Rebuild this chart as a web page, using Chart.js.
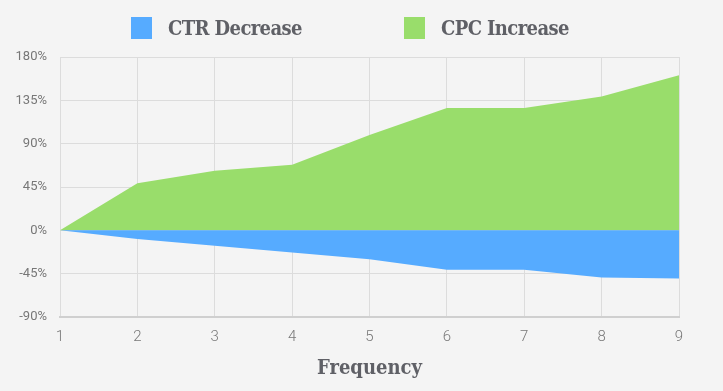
<!DOCTYPE html>
<html>
<head>
<meta charset="utf-8">
<script src="https://cdn.jsdelivr.net/npm/chart.js@4.4.1/dist/chart.umd.min.js"></script>
<style>
  html, body { margin: 0; padding: 0; background: #f4f4f4; }
  #wrap { position: relative; width: 723px; height: 391px; }
  #legend { position: absolute; top: 0; left: 0; width: 723px; height: 56px; }
  .item { position: absolute; top: 17px; height: 22px; }
  .box { position: absolute; top: 0; left: 0; width: 21px; height: 22px; }
  .label {
    position: absolute; left: 37px; top: -2px; white-space: nowrap;
    font-family: 'DejaVu Serif Condensed', 'DejaVu Serif', serif; font-weight: bold;
    font-size: 20px; line-height: 26px; color: #5f6066; letter-spacing: -0.6px;
  }
</style>
</head>
<body>
<div id="wrap">
  <canvas id="chart" width="723" height="391"></canvas>
  <div id="legend"></div>
</div>
<script>
// ── Data ──
const frequency = ['1', '2', '3', '4', '5', '6', '7', '8', '9'];
const ctrDecrease = [0, -9, -16, -23, -30, -41, -41, -49, -50];
const cpcIncrease = [0, 49, 62, 68, 99, 127, 127, 139, 161];
const yTicks = [-90, -45, 0, 45, 90, 135, 180];

const BLUE = '#56abff';
const GREEN = '#99dd6b';
const SLAB = "'DejaVu Serif Condensed', 'DejaVu Serif', serif";

// ── HTML legend ──
const legendItems = [
  { text: 'CTR Decrease', color: BLUE, left: 131 },
  { text: 'CPC Increase', color: GREEN, left: 404 }
];
document.getElementById('legend').innerHTML = legendItems.map(it => `
  <div class="item" style="left:${it.left}px">
    <div class="box" style="background:${it.color}"></div>
    <div class="label">${it.text}</div>
  </div>`).join('');

new Chart(document.getElementById('chart'), {
  type: 'line',
  data: {
    labels: frequency,
    datasets: [
      {
        label: 'CTR Decrease',
        data: ctrDecrease,
        backgroundColor: BLUE,
        borderWidth: 0,
        pointRadius: 0,
        fill: 'origin',
        tension: 0
      },
      {
        label: 'CPC Increase',
        data: cpcIncrease,
        backgroundColor: GREEN,
        borderWidth: 0,
        pointRadius: 0,
        fill: 'origin',
        tension: 0
      }
    ]
  },
  options: {
    responsive: false,
    animation: false,
    layout: { padding: { top: 57, right: 44, left: 0, bottom: 0 } },
    plugins: { legend: { display: false }, tooltip: { enabled: false } },
    scales: {
      x: {
        grid: { color: '#dcdcdc', drawTicks: false },
        border: { color: '#cfcfcf', width: 2 },
        ticks: { padding: 11, color: '#777', font: { family: 'Roboto', weight: 300, size: 15 } },
        title: {
          display: true, text: 'Frequency', color: '#5f6066',
          padding: { top: 10, bottom: 10 },
          font: { family: SLAB, weight: 'bold', size: 20 }
        },
        afterFit: s => { s.height = 74; }
      },
      y: {
        min: -90, max: 180,
        afterBuildTicks: s => { s.ticks = yTicks.map(v => ({ value: v })); },
        grid: { color: '#dcdcdc', drawTicks: false },
        border: { display: false },
        ticks: { padding: 13, color: '#777', font: { family: 'Roboto', size: 13 }, callback: v => v + '%' },
        afterFit: s => { s.width = 60; }
      }
    }
  }
});
</script>
</body>
</html>
